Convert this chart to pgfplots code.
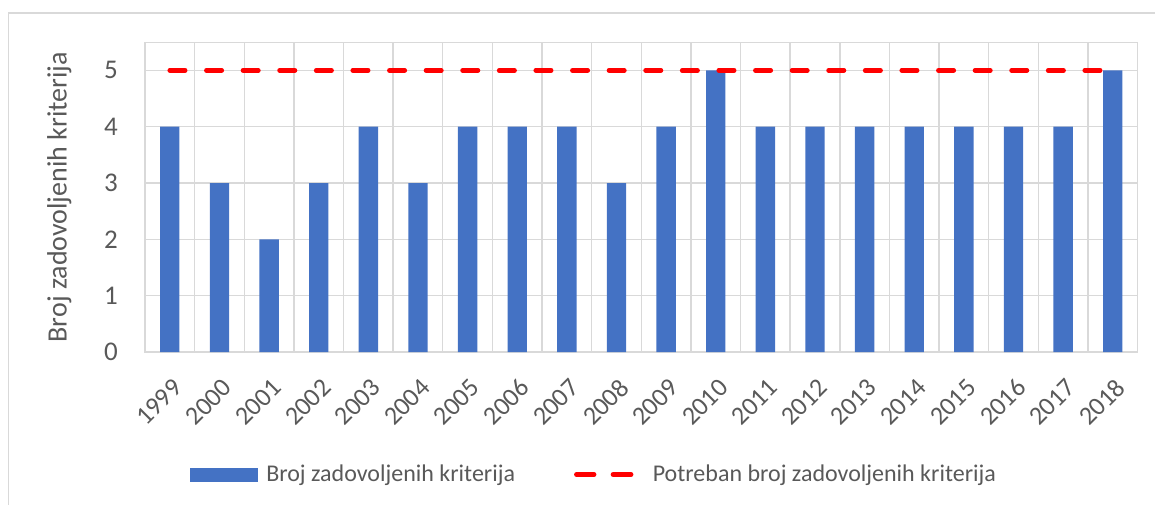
\documentclass[border=0pt]{standalone}
\usepackage{pgfplots}
\pgfplotsset{compat=1.18}
\usepackage{fontspec}
\setmainfont{Carlito}
\definecolor{barblue}{HTML}{4472C4}
\definecolor{txtgray}{HTML}{595959}
\definecolor{gridgray}{HTML}{D9D9D9}

\begin{document}
\begin{tikzpicture}
\useasboundingbox (-72.5pt,-76pt) rectangle (505pt,176pt);
% chart frame (cropped at right and bottom)
\draw[gridgray, line width=0.7pt] (-68.2pt,-80pt) -- (-68.2pt,169.4pt) -- (510pt,169.4pt);
\begin{axis}[
  at={(0pt,0pt)}, anchor=south west,
  scale only axis, width=496.3pt, height=154.9pt,
  xmin=-0.5, xmax=19.5, ymin=0, ymax=5.5,
  /pgf/number format/assume math mode=true,
  xtick={0,...,19},
  xticklabels={1999,2000,2001,2002,2003,2004,2005,2006,2007,2008,2009,2010,2011,2012,2013,2014,2015,2016,2017,2018},
  minor xtick={-0.5,0.5,...,19.5},
  ytick={0,1,2,3,4,5},
  ymajorgrids, xminorgrids, xmajorgrids=false,
  grid style={gridgray, line width=0.7pt},
  axis line style={gridgray, line width=0.7pt},
  major tick length=0pt, minor tick length=0pt,
  tick style={draw=none},
  x tick label style={font=\fontsize{13}{15}\selectfont, text=txtgray, inner sep=0pt,
    xshift=4pt, yshift=-15.6pt, rotate=45, anchor=east},
  y tick label style={font=\fontsize{13.5}{15}\selectfont, text=txtgray, inner sep=0pt,
    anchor=east, xshift=-13.35pt},
  ylabel={Broj zadovoljenih kriterija},
  every axis y label/.style={at={(axis description cs:-0.0863,0.5)}, rotate=90, anchor=center,
    font=\fontsize{14}{16}\selectfont, text=txtgray},
  legend columns=2,
  legend style={draw=none, fill=none, inner sep=0pt, outer sep=0pt,
    at={(axis description cs:0.0456,-0.3954)}, anchor=west,
    font=\fontsize{12}{14}\selectfont, text=txtgray,
    nodes={inner sep=0pt},
    /tikz/every odd column/.append style={column sep=4pt},
    /tikz/every even column/.append style={column sep=29.5pt}},
]
\addplot[ybar, bar width=0.39, fill=barblue, draw=none,
  legend image code/.code={\fill[barblue] (0pt,-3.5pt) rectangle (34pt,3.5pt);}]
  coordinates {(0,4) (1,3) (2,2) (3,3) (4,4) (5,3) (6,4) (7,4) (8,4) (9,3)
               (10,4) (11,5) (12,4) (13,4) (14,4) (15,4) (16,4) (17,4) (18,4) (19,5)};
\addlegendentry{Broj zadovoljenih kriterija}
\addplot[red, line width=2.35pt, line cap=round, dash pattern=on 7.65pt off 10.65pt,
  legend image code/.code={\draw[red, line width=2.35pt, line cap=round, dash pattern=on 7.65pt off 10.85pt] (1.175pt,0pt) -- (27.825pt,0pt);
    \path (0pt,0pt) -- (33pt,0pt);}]
  coordinates {(0,5) (19,5)};
\addlegendentry{Potreban broj zadovoljenih kriterija}
\end{axis}
\end{tikzpicture}
\end{document}
